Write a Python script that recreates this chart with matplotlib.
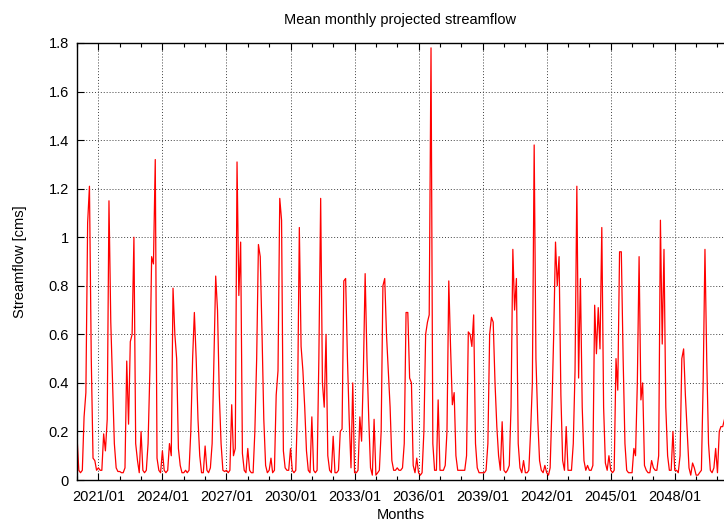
import matplotlib
matplotlib.use("Agg")
import matplotlib.pyplot as plt
import matplotlib.dates as mdates
import matplotlib.ticker as mticker
import numpy as np
import pandas as pd
import datetime as dt

# Monthly mean projected streamflow [cms], one list per year (Jan..Dec)
flow_2020 = [0.18, 0.04, 0.03, 0.04, 0.26, 0.36, 1.06, 1.21, 0.50, 0.09, 0.08, 0.04]
flow_2021 = [0.05, 0.04, 0.04, 0.19, 0.12, 0.25, 1.15, 0.65, 0.40, 0.15, 0.05, 0.035]
flow_2022 = [0.035, 0.03, 0.03, 0.05, 0.49, 0.23, 0.57, 0.60, 1.00, 0.15, 0.08, 0.03]
flow_2023 = [0.20, 0.04, 0.03, 0.04, 0.15, 0.45, 0.92, 0.89, 1.32, 0.09, 0.04, 0.03]
flow_2024 = [0.12, 0.04, 0.03, 0.04, 0.15, 0.10, 0.79, 0.60, 0.50, 0.13, 0.06, 0.03]
flow_2025 = [0.03, 0.04, 0.03, 0.04, 0.20, 0.50, 0.69, 0.50, 0.25, 0.10, 0.03, 0.03]
flow_2026 = [0.14, 0.04, 0.03, 0.05, 0.15, 0.50, 0.84, 0.70, 0.35, 0.15, 0.04, 0.035]
flow_2027 = [0.04, 0.03, 0.04, 0.31, 0.10, 0.13, 1.31, 0.76, 0.98, 0.11, 0.04, 0.03]
flow_2028 = [0.13, 0.04, 0.03, 0.03, 0.20, 0.50, 0.97, 0.92, 0.60, 0.25, 0.06, 0.03]
flow_2029 = [0.04, 0.09, 0.03, 0.04, 0.35, 0.45, 1.16, 1.07, 0.12, 0.05, 0.04, 0.04]
flow_2030 = [0.13, 0.04, 0.03, 0.04, 0.30, 1.04, 0.55, 0.45, 0.30, 0.12, 0.04, 0.03]
flow_2031 = [0.26, 0.04, 0.03, 0.04, 0.50, 1.16, 0.40, 0.30, 0.60, 0.10, 0.04, 0.03]
flow_2032 = [0.18, 0.03, 0.03, 0.04, 0.20, 0.21, 0.82, 0.83, 0.50, 0.25, 0.05, 0.40]
flow_2033 = [0.03, 0.03, 0.04, 0.26, 0.16, 0.45, 0.85, 0.50, 0.25, 0.05, 0.02, 0.25]
flow_2034 = [0.02, 0.03, 0.04, 0.20, 0.80, 0.83, 0.60, 0.45, 0.30, 0.08, 0.04, 0.04]
flow_2035 = [0.05, 0.04, 0.04, 0.05, 0.15, 0.69, 0.69, 0.42, 0.40, 0.06, 0.03, 0.09]
flow_2036 = [0.03, 0.02, 0.03, 0.20, 0.60, 0.65, 0.68, 1.78, 0.15, 0.04, 0.04, 0.33]
flow_2037 = [0.04, 0.04, 0.04, 0.06, 0.20, 0.82, 0.55, 0.31, 0.36, 0.10, 0.04, 0.04]
flow_2038 = [0.04, 0.04, 0.04, 0.10, 0.61, 0.60, 0.55, 0.68, 0.15, 0.05, 0.03, 0.03]
flow_2039 = [0.03, 0.03, 0.04, 0.15, 0.60, 0.67, 0.65, 0.40, 0.22, 0.10, 0.04, 0.24]
flow_2040 = [0.04, 0.03, 0.04, 0.06, 0.30, 0.95, 0.70, 0.83, 0.15, 0.05, 0.03, 0.08]
flow_2041 = [0.03, 0.03, 0.04, 0.20, 0.40, 1.38, 0.50, 0.25, 0.08, 0.04, 0.03, 0.06]
flow_2042 = [0.03, 0.02, 0.05, 0.30, 0.60, 0.98, 0.80, 0.92, 0.35, 0.08, 0.04, 0.22]
flow_2043 = [0.04, 0.04, 0.04, 0.15, 0.45, 1.21, 0.42, 0.83, 0.30, 0.08, 0.04, 0.06]
flow_2044 = [0.04, 0.04, 0.06, 0.72, 0.52, 0.71, 0.54, 1.04, 0.30, 0.07, 0.04, 0.10]
flow_2045 = [0.04, 0.03, 0.04, 0.50, 0.37, 0.94, 0.94, 0.50, 0.15, 0.04, 0.03, 0.03]
flow_2046 = [0.03, 0.13, 0.10, 0.40, 0.92, 0.33, 0.40, 0.06, 0.04, 0.03, 0.03, 0.08]
flow_2047 = [0.05, 0.04, 0.04, 0.10, 1.07, 0.56, 0.95, 0.30, 0.10, 0.04, 0.04, 0.20]
flow_2048 = [0.04, 0.04, 0.03, 0.10, 0.50, 0.54, 0.35, 0.20, 0.05, 0.02, 0.07, 0.05]
flow_2049 = [0.02, 0.02, 0.03, 0.04, 0.40, 0.95, 0.50, 0.15, 0.04, 0.03, 0.05, 0.13]
flow_2050 = [0.03, 0.20, 0.22, 0.22, 0.25]

years = [flow_2020, flow_2021, flow_2022, flow_2023, flow_2024, flow_2025,
         flow_2026, flow_2027, flow_2028, flow_2029, flow_2030, flow_2031,
         flow_2032, flow_2033, flow_2034, flow_2035, flow_2036, flow_2037,
         flow_2038, flow_2039, flow_2040, flow_2041, flow_2042, flow_2043,
         flow_2044, flow_2045, flow_2046, flow_2047, flow_2048, flow_2049,
         flow_2050]
flow = np.concatenate([np.array(y, dtype=float) for y in years])
dates = pd.date_range("2020-01-01", periods=len(flow), freq="MS")

major_tick_years = [2021, 2024, 2027, 2030, 2033, 2036, 2039, 2042, 2045, 2048]
minor_tick_years = list(range(2020, 2051))
y_ticks = [0, 0.2, 0.4, 0.6, 0.8, 1.0, 1.2, 1.4, 1.6, 1.8]

plt.rcParams['font.family'] = ['Liberation Sans', 'DejaVu Sans']

fig = plt.figure(figsize=(7.24, 5.23), dpi=100)
W, H = 724, 523
left, right, top, bottom = 77, 724, 43, 480
ax = fig.add_axes([left / W, 1 - bottom / H, (right - left) / W, (bottom - top) / H])

ax.plot(dates, flow, color='#ff0000', linewidth=0.9)

x0 = mdates.date2num(dt.datetime(2020, 1, 1))
days_per_px = (mdates.date2num(dt.datetime(2024, 1, 1)) - mdates.date2num(dt.datetime(2021, 1, 1))) / 64.0
ax.set_xlim(x0, x0 + (right - left) * days_per_px)
ax.set_ylim(0, 1.8)

major_pos = [mdates.date2num(dt.datetime(y, 1, 1)) for y in major_tick_years]
minor_pos = [mdates.date2num(dt.datetime(y, 1, 1)) for y in minor_tick_years if y not in major_tick_years]
ax.xaxis.set_major_locator(mticker.FixedLocator(major_pos))
ax.xaxis.set_minor_locator(mticker.FixedLocator(minor_pos))
ax.xaxis.set_major_formatter(mdates.DateFormatter('%Y/%m'))
ax.set_yticks(y_ticks)
ax.yaxis.set_major_formatter(mticker.FormatStrFormatter('%g'))

ax.tick_params(axis='both', which='both', direction='in', top=True, right=False,
               labelsize=10.5, colors='black')
ax.tick_params(axis='both', which='major', length=5, width=0.8)
ax.tick_params(axis='x', which='minor', length=3, width=0.8)
ax.tick_params(axis='x', pad=7)
ax.tick_params(axis='y', pad=6)

ax.grid(True, which='major', color='#404040', linestyle=(0, (1, 2)), linewidth=0.7)
ax.set_axisbelow(True)

for s in ['left', 'bottom', 'top']:
    ax.spines[s].set_linewidth(1.0)
    ax.spines[s].set_color('black')
ax.spines['right'].set_visible(False)

ax.set_xlabel('Months', fontsize=10.5, labelpad=3)
ax.set_ylabel('Streamflow [cms]', fontsize=10.5, labelpad=15)
fig.text(400.5 / W, 1 - 20 / H, 'Mean monthly projected streamflow', ha='center', va='center', fontsize=10.5)

fig.savefig('out.png', dpi=100)
